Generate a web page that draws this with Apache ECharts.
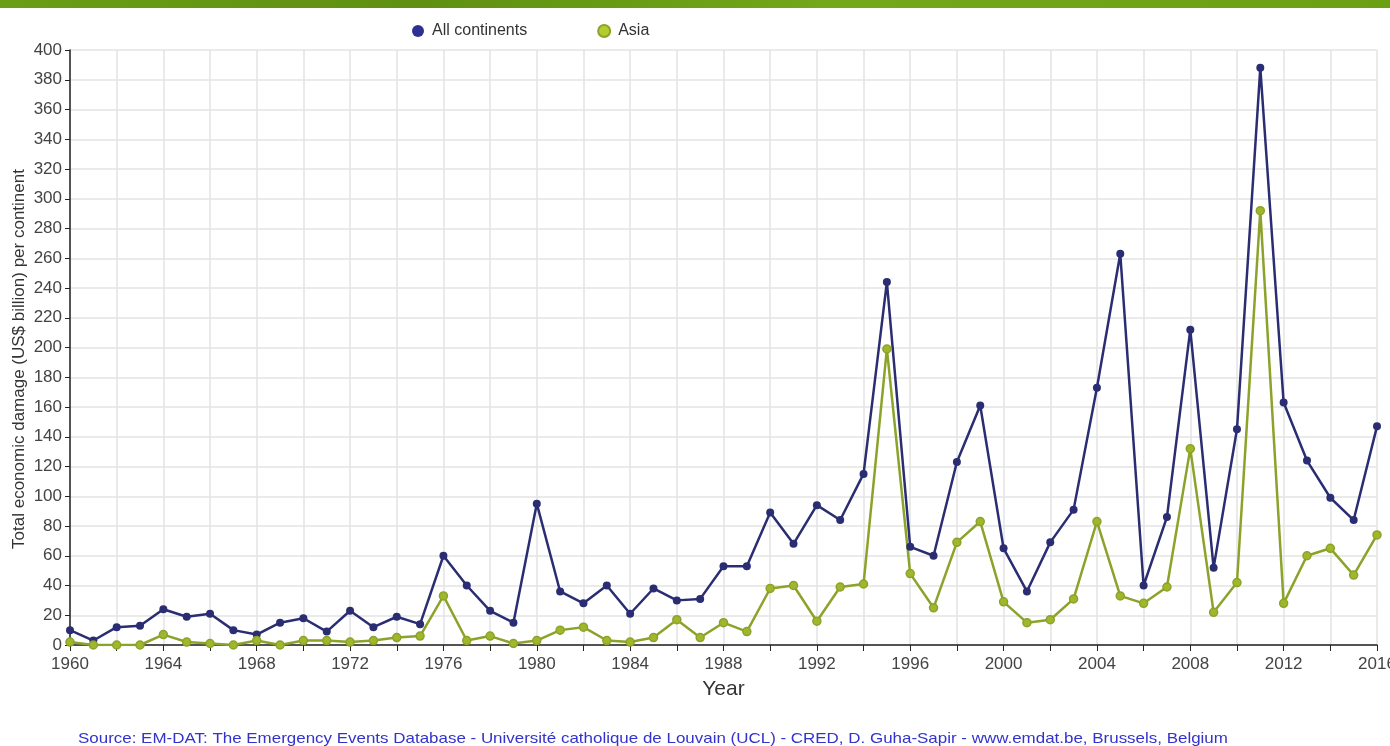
<!DOCTYPE html>
<html>
<head>
<meta charset="utf-8">
<script src="https://cdn.jsdelivr.net/npm/echarts@6/dist/echarts.min.js"></script>
<style>
  html, body { margin: 0; padding: 0; background: #fff; }
  #chart { width: 1390px; height: 746px; }
</style>
</head>
<body>
<div id="chart"></div>
<script>
// years 1960..2016
const years = [];
for (let y = 1960; y <= 2016; y++) years.push(y);

// total economic damage, US$ billion
const allContinents = [
  10, 3, 12, 13, 24, 19, 21, 10, 7, 15,
  18, 9, 23, 12, 19, 14, 60, 40, 23, 15,
  95, 36, 28, 40, 21, 38, 30, 31, 53, 53,
  89, 68, 94, 84, 115, 244, 66, 60, 123, 161,
  65, 36, 69, 91, 173, 263, 40, 86, 212, 52,
  145, 388, 163, 124, 99, 84, 147
];
const asia = [
  2, 0, 0, 0, 7, 2, 1, 0, 3, 0,
  3, 3, 2, 3, 5, 6, 33, 3, 6, 1,
  3, 10, 12, 3, 2, 5, 17, 5, 15, 9,
  38, 40, 16, 39, 41, 199, 48, 25, 69, 83,
  29, 15, 17, 31, 83, 33, 28, 39, 132, 22,
  42, 292, 28, 60, 65, 47, 74
];

const pairs = (vals) => years.map((y, i) => [y, vals[i]]);

const FONT = "'Liberation Sans', Arial, sans-serif";

const chart = echarts.init(document.getElementById('chart'));
chart.setOption({
  animation: false,
  textStyle: { fontFamily: FONT },
  graphic: [
    {
      type: 'rect',
      left: 0, top: 0,
      shape: { width: 1390, height: 8 },
      style: {
        fill: new echarts.graphic.LinearGradient(0, 0, 1, 0, [
          { offset: 0, color: '#6a9e16' },
          { offset: 0.3, color: '#5f9010' },
          { offset: 0.6, color: '#72a81a' },
          { offset: 1, color: '#6aa012' }
        ])
      }
    },
    {
      type: 'text',
      x: 78, y: 731,
      scaleX: 1.13,
      style: {
        text: 'Source: EM-DAT: The Emergency Events Database - Université catholique de Louvain (UCL) - CRED, D. Guha-Sapir - www.emdat.be, Brussels, Belgium',
        fill: '#3333cc',
        font: "15px 'Liberation Sans', Arial, sans-serif"
      }
    },
    {
      type: 'text',
      x: 19, y: 359,
      rotation: Math.PI / 2,
      style: {
        text: 'Total economic damage (US$ billion) per continent',
        fill: '#333',
        align: 'center',
        verticalAlign: 'middle',
        font: "17px 'Liberation Sans', Arial, sans-serif"
      }
    }
  ],
  legend: {
    top: 18,
    left: 407,
    icon: 'circle',
    itemWidth: 12,
    itemHeight: 12,
    itemGap: 70,
    textStyle: { fontSize: 16, color: '#333', padding: [0, 0, 0, 3] },
    data: [
      { name: 'All continents', itemStyle: { color: '#2e3192' } },
      { name: 'Asia', itemStyle: { color: '#b5cc2e' } }
    ]
  },
  grid: { left: 70, right: 13, top: 50, bottom: 101, outerBoundsMode: 'none', containLabel: false },
  xAxis: {
    type: 'value',
    min: 1960,
    max: 2016,
    interval: 2,
    name: 'Year',
    nameLocation: 'middle',
    nameGap: 34,
    nameTextStyle: { fontSize: 21, color: '#333' },
    axisLine: { lineStyle: { color: '#222', width: 1.5 } },
    axisTick: { show: true, length: 6, lineStyle: { color: '#222' } },
    axisLabel: {
      fontSize: 17, color: '#444', margin: 11,
      formatter: (v) => (v % 4 === 0 ? String(v) : '')
    },
    splitLine: { show: true, lineStyle: { color: '#e3e3e3', width: 1.5 } }
  },
  yAxis: {
    type: 'value',
    min: 0,
    max: 400,
    interval: 20,
    axisLine: { show: true, lineStyle: { color: '#222', width: 1.5 } },
    axisTick: { show: true, length: 5, lineStyle: { color: '#222' } },
    axisLabel: { fontSize: 17, color: '#444', margin: 8 },
    splitLine: { show: true, lineStyle: { color: '#e3e3e3', width: 1.5 } }
  },
  series: [
    {
      name: 'All continents',
      type: 'line',
      data: pairs(allContinents),
      symbol: 'circle',
      symbolSize: 8,
      lineStyle: { color: '#2a2d72', width: 2.5 },
      itemStyle: { color: '#2a2d72' }
    },
    {
      name: 'Asia',
      type: 'line',
      data: pairs(asia),
      symbol: 'circle',
      symbolSize: 8,
      lineStyle: { color: '#8ba32a', width: 2.5 },
      itemStyle: { color: '#a0b72c', borderColor: '#8ba32a', borderWidth: 1.5 }
    }
  ]
});
</script>
</body>
</html>
